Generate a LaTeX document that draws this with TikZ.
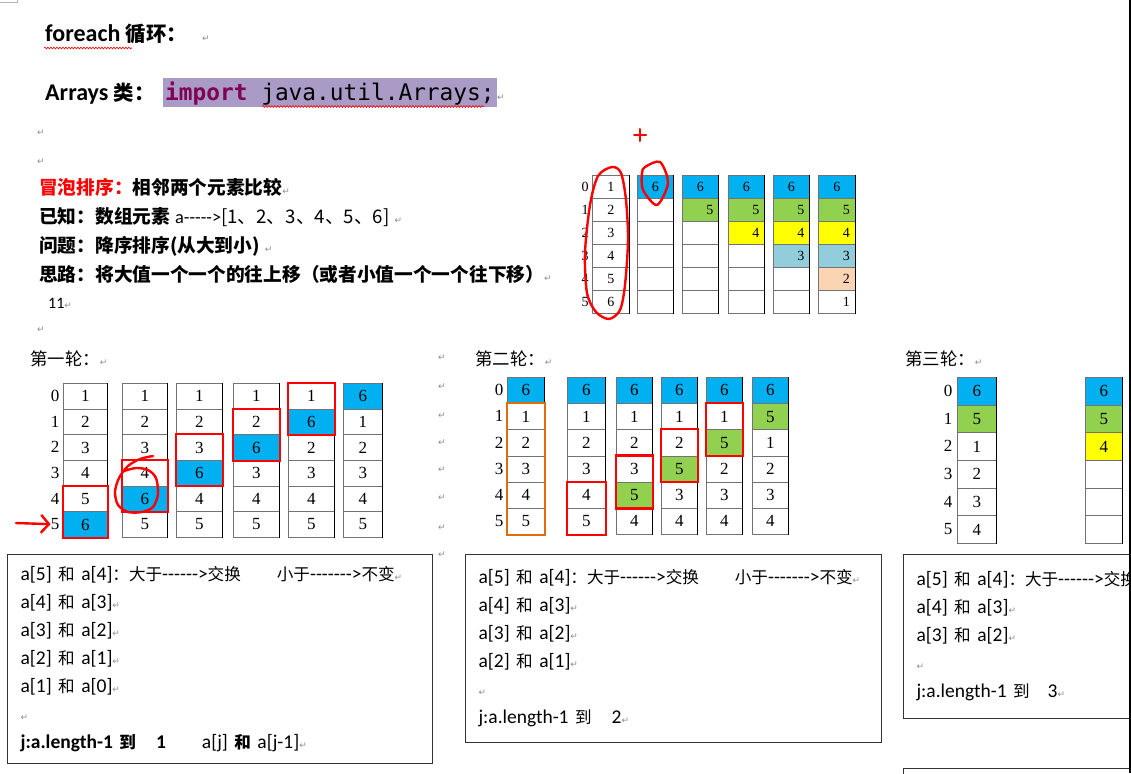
\documentclass[tikz,border=0pt]{standalone}
\usepackage{fontspec}
\usepackage{tikz}
\usetikzlibrary{arrows.meta,positioning,decorations.pathmorphing}
\setmainfont{Carlito}[Ligatures=TeXOff]
\newfontfamily\zh[Scale=0.85]{Noto Sans CJK SC}
\newfontfamily\cellfont{Liberation Serif}
\newfontfamily\codefont{DejaVu Sans Mono}
\newfontfamily\markfont{DejaVu Sans}
\definecolor{cblue}{HTML}{00B0F0}
\definecolor{cgreen}{HTML}{92D050}
\definecolor{cyellow}{HTML}{FFFF00}
\definecolor{cteal}{HTML}{92CDDC}
\definecolor{cpeach}{HTML}{FBD4B4}
\definecolor{korange}{HTML}{E36C09}
\definecolor{kwpurple}{HTML}{7F0055}
\definecolor{hlpurple}{HTML}{A99BC6}
\definecolor{markgray}{HTML}{8C8C8C}
\newcommand{\pmark}{{\markfont\fontsize{9}{9}\selectfont\color{markgray}↵}}
\newcommand{\rn}[1]{\makebox[26pt][r]{#1}}
\newcommand{\arrcol}[7][cell]{%
  \foreach \v/\fc [count=\i from 0] in {#7}
    \node[#1,fill=\fc,minimum width=#5pt,minimum height=#6pt] (#2-\i) at (#3,{#4+#6*\i}) {\v};
  \draw[colrim] (#2-0.north east) -- (#2-5.south east);}
\tikzset{
  cell/.style={draw=black!55,line width=0.6pt,inner sep=0pt,anchor=north west,
    font=\cellfont\fontsize{17}{17}\selectfont},
  tcell/.style={cell,font=\cellfont\fontsize{14}{14}\selectfont},
  idx/.style={inner sep=0pt,font=\cellfont\fontsize{17}{17}\selectfont},
  tidx/.style={idx,font=\cellfont\fontsize{14}{14}\selectfont},
  colrim/.style={line width=1.1pt,black},
  redbox/.style={draw=red,line width=2.2pt},
  orgbox/.style={draw=korange,line width=2pt},
  handred/.style={draw=red,line width=2.4pt,line cap=round,line join=round},
  redarrow/.style={handred,-{Straight Barb[length=8pt,width=18pt,line width=2.4pt]}},
  wavy/.style={draw=red,line width=0.6pt,decorate,decoration={snake,segment length=3pt,amplitude=0.9pt}},
  headtxt/.style={anchor=base west,inner sep=0pt,font=\fontsize{24}{26}\selectfont},
  bodytxt/.style={anchor=base west,inner sep=0pt,font=\fontsize{22}{24}\selectfont},
  titletxt/.style={anchor=base west,inner sep=0pt,font=\fontsize{20.5}{24}\selectfont},
  pm/.style={inner sep=0pt},
  notebox/.style={draw=black!80,line width=1.1pt,anchor=north west,align=left,
    inner xsep=13pt,font=\fontsize{19.5}{28}\selectfont},
}
\newcommand{\arridx}[5][idx]{%
  \foreach \i in {0,...,5}
    \node[#1] (#2-\i) at (#3,{#4+(\i+0.5)*#5}) {\i};}
\begin{document}
\begin{tikzpicture}[x=1pt,y=-1pt]
\useasboundingbox (0,0) rectangle (1131,773);
\draw[gray!60] (0,2.5) -- (17,2.5) -- (17,0);
\fill (1129,0) rectangle (1131,773);

\node[headtxt] (hfor) at (45,42) {\textbf{foreach} {\zh\bfseries 循环：}\hspace{15pt}\pmark};
\node[headtxt] (harr) at (45,100) {\textbf{Arrays} {\zh\bfseries 类：}};
\node[anchor=base west,fill=hlpurple,inner xsep=2pt,inner ysep=2.5pt,text height=19.5pt,text depth=4.5pt,
  font=\codefont\fontsize{22.8}{24}\selectfont] (himp) at (163,100) {{\bfseries\color{kwpurple}import} java.util.Arrays;};
\node[anchor=base west,inner sep=0pt] (hret) at (himp.base east) {\pmark};
\draw[wavy] (44,48) -- (132,48);
\draw[wavy] (262,106.5) -- (484,106.5);

\node[pm] (e1) at (41,133) {\pmark}; \node[pm] (e2) at (41,162) {\pmark};
\node[bodytxt] (l1) at (39,194) {{\zh\bfseries\color{red}冒泡排序：}{\zh\bfseries 相邻两个元素比较}\pmark};
\node[bodytxt] (l2) at (39,223) {{\zh\bfseries 已知：数组元素} {\fontsize{18.4}{18}\selectfont a----->}{\zh[1、2、3、4、5、6]} \pmark};
\node[bodytxt] (l3) at (39,252) {{\zh\bfseries 问题：降序排序(从大到小)} \pmark};
\node[bodytxt] (l4) at (39,281) {{\zh\bfseries 思路：将大值一个一个的往上移（或者小值一个一个往下移）}\pmark};
\node[anchor=base west,inner sep=0pt,font=\fontsize{16}{16}\selectfont] (n11) at (48,308) {11\pmark};
\node[pm] (e3) at (41,330) {\pmark};

\arridx[tidx]{ti}{585}{175}{23}
\arrcol[tcell]{t1}{592}{175}{37}{23}{1/white,2/white,3/white,4/white,5/white,6/white}
\arrcol[tcell]{t2}{637}{175}{36}{23}{6/cblue,{}/white,{}/white,{}/white,{}/white,{}/white}
\arrcol[tcell]{t3}{682}{175}{36}{23}{6/cblue,\rn{5}/cgreen,{}/white,{}/white,{}/white,{}/white}
\arrcol[tcell]{t4}{728}{175}{36}{23}{6/cblue,\rn{5}/cgreen,\rn{4}/cyellow,{}/white,{}/white,{}/white}
\arrcol[tcell]{t5}{773}{175}{36}{23}{6/cblue,\rn{5}/cgreen,\rn{4}/cyellow,\rn{3}/cteal,{}/white,{}/white}
\arrcol[tcell]{t6}{818}{175}{37}{23}{6/cblue,\rn{5}/cgreen,\rn{4}/cyellow,\rn{3}/cteal,\rn{2}/cpeach,\rn{1}/white}
\draw[handred] plot[smooth cycle] coordinates {(612,167) (598,176) (590,205) (585,253) (587,293) (596,312)
  (609,319) (620,310) (625,285) (628,240) (626,200) (621,173)};
\draw[handred] plot[smooth cycle] coordinates {(645,167) (660,162) (668,183) (657,205) (643,190) (642,173)};
\draw[handred,line width=2pt] (634,135) -- (646,135) (640,129) -- (640,141);

\node[titletxt] (p1title) at (30,365) {{\zh 第一轮：}\pmark};
\arridx{p1i}{55}{383}{25.67}
\arrcol{p1a}{63}{383}{44}{25.67}{1/white,2/white,3/white,4/white,5/white,6/cblue}
\arrcol{p1b}{122}{383}{45}{25.67}{1/white,2/white,3/white,4/white,6/cblue,5/white}
\arrcol{p1c}{176}{383}{46}{25.67}{1/white,2/white,3/white,6/cblue,4/white,5/white}
\arrcol{p1d}{233}{383}{46}{25.67}{1/white,2/white,6/cblue,3/white,4/white,5/white}
\arrcol{p1e}{288}{383}{46}{25.67}{1/white,6/cblue,2/white,3/white,4/white,5/white}
\arrcol{p1f}{343}{383}{39}{25.67}{6/cblue,1/white,2/white,3/white,4/white,5/white}
\draw[redbox] (p1a-4.north west) rectangle (p1a-5.south east);
\draw[redbox] (p1b-3.north west) rectangle (p1b-4.south east);
\draw[redbox] (p1c-2.north west) rectangle (p1c-3.south east);
\draw[redbox] (p1d-1.north west) rectangle (p1d-2.south east);
\draw[redbox] (p1e-0.north west) rectangle (p1e-1.south east);
\draw[handred] plot[smooth] coordinates {(153,456) (140,459) (128,466) (119,478) (115,492) (118,505) (128,512)
  (142,512) (153,507) (158,494) (156,478) (148,470) (136,468) (124,471)};
\coordinate (ptr) at (16,523);
\draw[redarrow] (ptr) -- (p1i-5.west);
\foreach \y [count=\k] in {358,387,416,443,470,498,528,555}
  \node[pm] (rm\k) at (442,\y) {\pmark};

\node[titletxt] (p2title) at (475,365) {{\zh 第二轮：}\pmark};
\arridx{p2i}{499}{377}{26.17}
\arrcol{p2a}{507}{377}{37}{26.17}{6/cblue,1/white,2/white,3/white,4/white,5/white}
\arrcol{p2b}{567}{377}{38}{26.17}{6/cblue,1/white,2/white,3/white,4/white,5/white}
\arrcol{p2c}{616}{377}{36}{26.17}{6/cblue,1/white,2/white,3/white,5/cgreen,4/white}
\arrcol{p2d}{661}{377}{36}{26.17}{6/cblue,1/white,2/white,5/cgreen,3/white,4/white}
\arrcol{p2e}{706}{377}{36}{26.17}{6/cblue,1/white,5/cgreen,2/white,3/white,4/white}
\arrcol{p2f}{752}{377}{36}{26.17}{6/cblue,5/cgreen,1/white,2/white,3/white,4/white}
\draw[orgbox] (p2a-1.north west) rectangle (p2a-5.south east);
\draw[redbox] (p2b-4.north west) rectangle (p2b-5.south east);
\draw[redbox] (p2c-3.north west) rectangle (p2c-4.south east);
\draw[redbox] (p2d-2.north west) rectangle (p2d-3.south east);
\draw[redbox] (p2e-1.north west) rectangle (p2e-2.south east);

\node[titletxt] (p3title) at (905,365) {{\zh 第三轮：}\pmark};
\arridx{p3i}{948}{377}{27.67}
\arrcol{p3a}{957}{377}{39}{27.67}{6/cblue,5/cgreen,1/white,2/white,3/white,4/white}
\arrcol{p3b}{1085}{377}{37}{27.67}{6/cblue,5/cgreen,4/cyellow,{}/white,{}/white,{}/white}

\node[notebox,text width=399pt,minimum height=209pt] (box1) at (7,554) {%
  a[5] {\zh 和} a[4]{\zh ：大于}------>{\zh 交换}\hspace{36pt}{\zh 小于}------->{\zh 不变}\pmark\\
  a[4] {\zh 和} a[3]\pmark\\ a[3] {\zh 和} a[2]\pmark\\ a[2] {\zh 和} a[1]\pmark\\ a[1] {\zh 和} a[0]\pmark\\
  \pmark\\
  \textbf{j:a.length-1 {\zh 到}}\hspace{20pt}\textbf{1}\hspace{36pt}a[j] {\zh\bfseries 和} a[j-1]\pmark};
\node[notebox,text width=390pt,minimum height=188pt] (box2) at (465,554) {%
  a[5] {\zh 和} a[4]{\zh ：大于}------>{\zh 交换}\hspace{36pt}{\zh 小于}------->{\zh 不变}\pmark\\
  a[4] {\zh 和} a[3]\pmark\\ a[3] {\zh 和} a[2]\pmark\\ a[2] {\zh 和} a[1]\pmark\\
  \pmark\\
  j:a.length-1 {\zh 到}\hspace{20pt}2\pmark};
\begin{scope}
\clip (0,0) rectangle (1129,773);
\node[notebox,text width=390pt,minimum height=164pt] (box3) at (903,554) {%
  a[5] {\zh 和} a[4]{\zh ：大于}------>{\zh 交换}\hspace{36pt}{\zh 小于}------->{\zh 不变}\pmark\\
  a[4] {\zh 和} a[3]\pmark\\ a[3] {\zh 和} a[2]\pmark\\
  \pmark\\
  j:a.length-1 {\zh 到}\hspace{18pt}3\pmark};
\node[notebox,text width=390pt,minimum height=100pt] (box4) at (903,768) {};
\end{scope}
\end{tikzpicture}
\end{document}
